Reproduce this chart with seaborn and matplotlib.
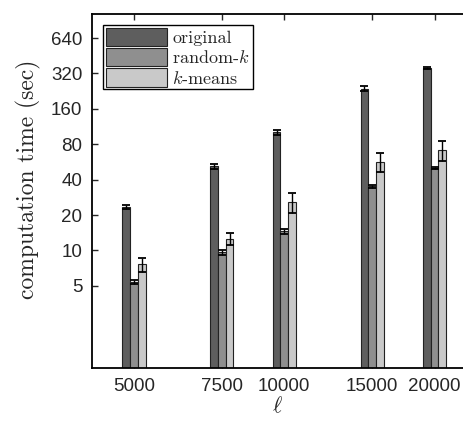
import numpy as np
import pandas as pd
import matplotlib
matplotlib.use("Agg")
import matplotlib.pyplot as plt
import seaborn as sns

# values (seconds)
ells = [5000, 7500, 10000, 15000, 20000]
methods = ["original", "random-$k$", "$k$-means"]
t_original = [23.5, 52, 101, 237, 355]
t_random = [5.4, 9.6, 14.5, 35, 50]
t_kmeans = [7.6, 12.6, 25.8, 57, 72]
err_original = [1.0, 2.5, 5.0, 12, 9]
err_random = [0.2, 0.4, 0.7, 1.3, 1.2]
err_kmeans = [1.1, 1.5, 5.0, 11, 14]
yticks = [5, 10, 20, 40, 80, 160, 320, 640]
colors = ["#5e5e5e", "#8f8f8f", "#c9c9c9"]

sns.set_style("ticks")
plt.rcParams["font.family"] = ["Liberation Sans", "DejaVu Sans"]
plt.rcParams["mathtext.fontset"] = "cm"
plt.rcParams["axes.unicode_minus"] = False

df = pd.DataFrame({
    "ell": ells * 3,
    "method": [m for m in methods for _ in ells],
    "time": t_original + t_random + t_kmeans,
})
errs = [err_original, err_random, err_kmeans]

fig = plt.figure(figsize=(4.64, 4.25), dpi=100)
ax = fig.add_axes([92 / 464, 1 - 368 / 425, 378 / 464, 354 / 425])
ax.set_xscale("log")
ax.set_yscale("log")

sns.barplot(data=df, x="ell", y="time", hue="method", hue_order=methods,
            palette=dict(zip(methods, colors)), native_scale=True,
            width=0.37, errorbar=None, edgecolor="#222222", linewidth=0.8,
            ax=ax)

# error bars on bar centres (geometric centre on log x)
for cont, e, vals in zip(ax.containers, errs, [t_original, t_random, t_kmeans]):
    centers = sorted(np.sqrt(p.get_x() * (p.get_x() + p.get_width())) for p in cont)
    ax.errorbar(centers, vals, yerr=e, fmt="none", ecolor="black",
                elinewidth=1.0, capsize=3, capthick=1.3, zorder=5)

ax.set_xlim(4120, 23550)
ax.set_ylim(1, 1024)
ax.set_xticks(ells)
ax.set_xticklabels([str(v) for v in ells])
ax.set_yticks(yticks)
ax.set_yticklabels([str(v) for v in yticks])
ax.minorticks_off()
ax.tick_params(direction="in", top=True, right=True, length=4, width=1,
               labelsize=13.5, pad=7)
for s in ax.spines.values():
    s.set_linewidth(1.3)
    s.set_color("black")

ax.set_ylabel("computation time (sec)", fontfamily="cmr10", fontsize=17)
ax.yaxis.set_label_coords(-0.134, 0.534)
ax.set_xlabel(r"$\ell$", fontsize=16)
ax.xaxis.set_label_coords(0.49, -0.08)

handles, labels = ax.get_legend_handles_labels()
leg = ax.legend(handles, labels, loc="upper left", frameon=True, fancybox=False,
                edgecolor="black", framealpha=1, prop={"family": "cmr10", "size": 13},
                handlelength=3.4, handleheight=1.2, labelspacing=0.1,
                handletextpad=0.3, borderpad=0.15, borderaxespad=0.6)
leg.get_frame().set_linewidth(1.0)

fig.savefig("out.png", dpi=100)
